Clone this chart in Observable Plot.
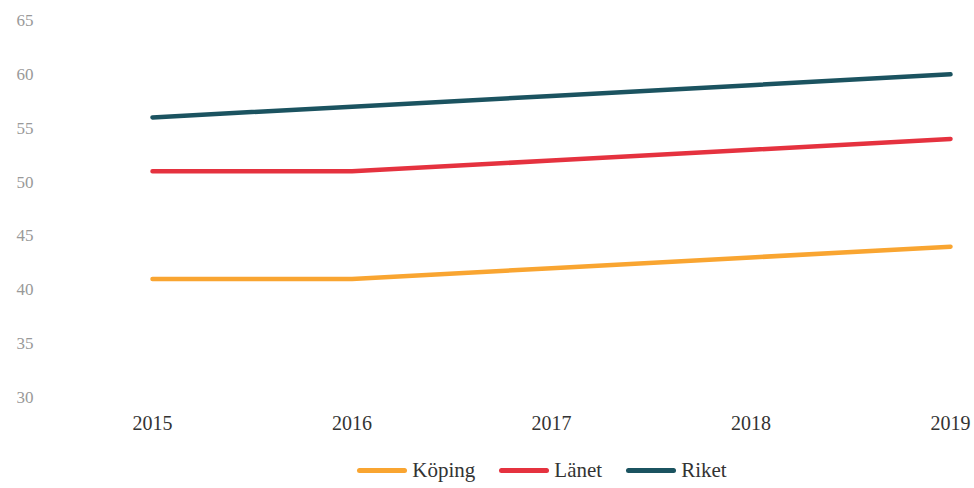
<!DOCTYPE html>
<html>
<head>
<meta charset="utf-8">
<script src="https://cdn.jsdelivr.net/npm/d3@7"></script>
<script src="https://cdn.jsdelivr.net/npm/@observablehq/plot@0.6"></script>
<style>
  body { margin: 0; background: #fff; font-family: "Liberation Serif", "DejaVu Serif", serif; }
  #legend { display: flex; justify-content: center; align-items: center; padding-left: 110px; height: 40px; margin-top: 10px; font-size: 21px; color: #333; }
  .item { display: flex; align-items: center; margin: 0 12px; }
  .sw { width: 50px; height: 5px; border-radius: 3px; margin-right: 5px; }
</style>
</head>
<body>
<div id="chart"></div>
<div id="legend"></div>
<script>
const years = [2015, 2016, 2017, 2018, 2019];
const series = ["Köping", "Länet", "Riket"];
const koping = [41, 41, 42, 43, 44];
const lanet = [51, 51, 52, 53, 54];
const riket = [56, 57, 58, 59, 60];
const colors = ["#F9A531", "#E5323F", "#1B5360"];
const yTicks = [30, 35, 40, 45, 50, 55, 60, 65];

const values = [koping, lanet, riket];
const data = [];
series.forEach((s, i) => years.forEach((y, j) => data.push({series: s, year: y, value: values[i][j]})));

const chart = Plot.plot({
  width: 974,
  height: 440,
  marginLeft: 152,
  marginRight: 24,
  marginTop: 20,
  marginBottom: 43,
  style: { fontFamily: "'Liberation Serif', 'DejaVu Serif', serif", background: "#fff" },
  x: { domain: [2015, 2019], ticks: years, tickFormat: d => String(d), tickSize: 0, tickPadding: 18, label: null },
  y: { domain: [30, 65], ticks: yTicks, tickSize: 0, tickPadding: 119, label: null },
  color: { domain: series, range: colors },
  marks: [
    Plot.axisX({ticks: years, tickFormat: d => String(d), tickSize: 0, tickPadding: 18, fontSize: 20, fill: "#333", label: null}),
    Plot.axisY({ticks: yTicks, tickSize: 0, tickPadding: 119, fontSize: 17, fill: "#999", label: null}),
    Plot.line(data, {x: "year", y: "value", stroke: "series", strokeWidth: 4.5, strokeLinecap: "round", strokeLinejoin: "round"})
  ]
});
document.getElementById("chart").appendChild(chart);

const legend = document.getElementById("legend");
series.forEach((s, i) => {
  const it = document.createElement("div");
  it.className = "item";
  const sw = document.createElement("div");
  sw.className = "sw";
  sw.style.background = colors[i];
  const t = document.createElement("span");
  t.textContent = s;
  it.appendChild(sw); it.appendChild(t);
  legend.appendChild(it);
});
</script>
</body>
</html>
